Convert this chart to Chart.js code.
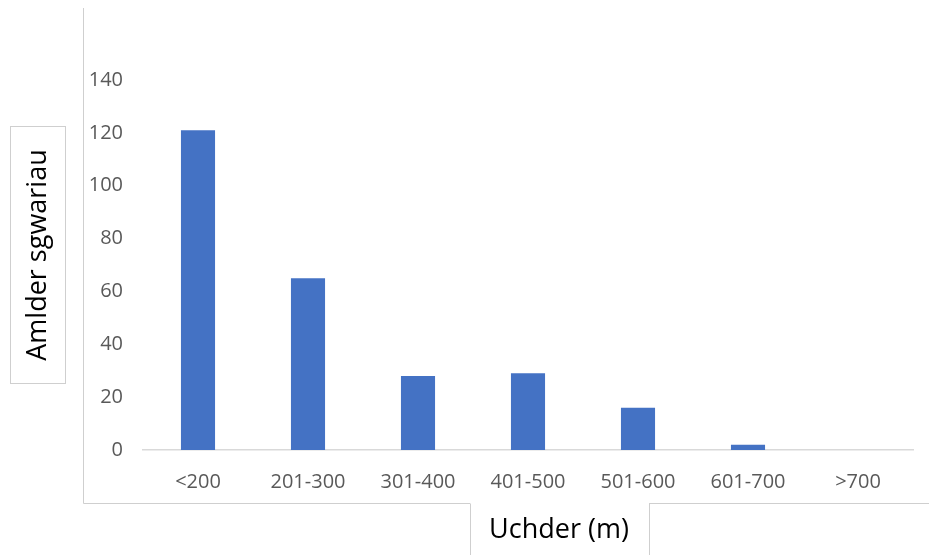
<!DOCTYPE html>
<html>
<head>
<meta charset="utf-8">
<script src="https://cdn.jsdelivr.net/npm/chart.js@4.4.1/dist/chart.umd.min.js"></script>
<style>
  html, body { margin: 0; padding: 0; background: #ffffff; }
  #wrap { width: 929px; height: 555px; position: relative; }
</style>
</head>
<body>
<div id="wrap"><canvas id="c" width="929" height="555"></canvas></div>
<script>
// Elevation bands and number of grid squares in each
const bands = ['<200', '201-300', '301-400', '401-500', '501-600', '601-700', '>700'];
const squares = [121, 65, 28, 29, 16, 2, 0];
const yTicks = [0, 20, 40, 60, 80, 100, 120, 140];
const xTitle = 'Uchder (m)';
const yTitle = 'Amlder sgwariau';

const FONT = '"Open Sans", "Liberation Sans", sans-serif';
const FRAME = '#cfcfcf';

// Frame lines and boxed axis titles drawn around the plot
const framePlugin = {
  id: 'frame',
  afterDraw(chart) {
    const ctx = chart.ctx;
    ctx.save();
    ctx.strokeStyle = FRAME;
    ctx.lineWidth = 1;
    ctx.beginPath();
    // outer frame: left edge and bottom edge (interrupted by the x title box)
    ctx.moveTo(83.5, 8);
    ctx.lineTo(83.5, 503.5);
    ctx.lineTo(470, 503.5);
    ctx.moveTo(649, 503.5);
    ctx.lineTo(929, 503.5);
    // x title box sides
    ctx.moveTo(470.5, 503.5);
    ctx.lineTo(470.5, 555);
    ctx.moveTo(649.5, 503.5);
    ctx.lineTo(649.5, 555);
    ctx.stroke();
    // y title box
    ctx.strokeRect(10.5, 126.5, 55, 257);

    ctx.fillStyle = '#000000';
    ctx.font = '27px ' + FONT;
    ctx.textAlign = 'center';
    ctx.textBaseline = 'middle';
    ctx.fillText(xTitle, 559, 530);
    ctx.translate(38, 255);
    ctx.rotate(-Math.PI / 2);
    ctx.fillText(yTitle, 0, 0);
    ctx.restore();
  }
};

new Chart(document.getElementById('c'), {
  type: 'bar',
  data: {
    labels: bands,
    datasets: [{
      data: squares,
      backgroundColor: '#4472C4',
      borderWidth: 0,
      categoryPercentage: 1,
      barPercentage: 0.31
    }]
  },
  options: {
    responsive: false,
    animation: false,
    devicePixelRatio: 1,
    layout: { padding: { top: 80, right: 16, bottom: 0, left: 0 } },
    plugins: { legend: { display: false }, tooltip: { enabled: false } },
    scales: {
      x: {
        grid: { display: false, drawTicks: false },
        border: { display: true, color: '#d9d9d9', width: 1.5 },
        ticks: { color: '#595959', font: { family: FONT, size: 20 }, padding: 20, maxRotation: 0 },
        afterFit(s) { s.height = 105; }
      },
      y: {
        min: 0,
        max: 140,
        grid: { display: false, drawTicks: false },
        border: { display: false },
        afterBuildTicks(s) { s.ticks = yTicks.map(v => ({ value: v })); },
        ticks: { color: '#595959', font: { family: FONT, size: 20 }, padding: 20 },
        afterFit(s) { s.width = 143; }
      }
    }
  },
  plugins: [framePlugin]
});
</script>
</body>
</html>
